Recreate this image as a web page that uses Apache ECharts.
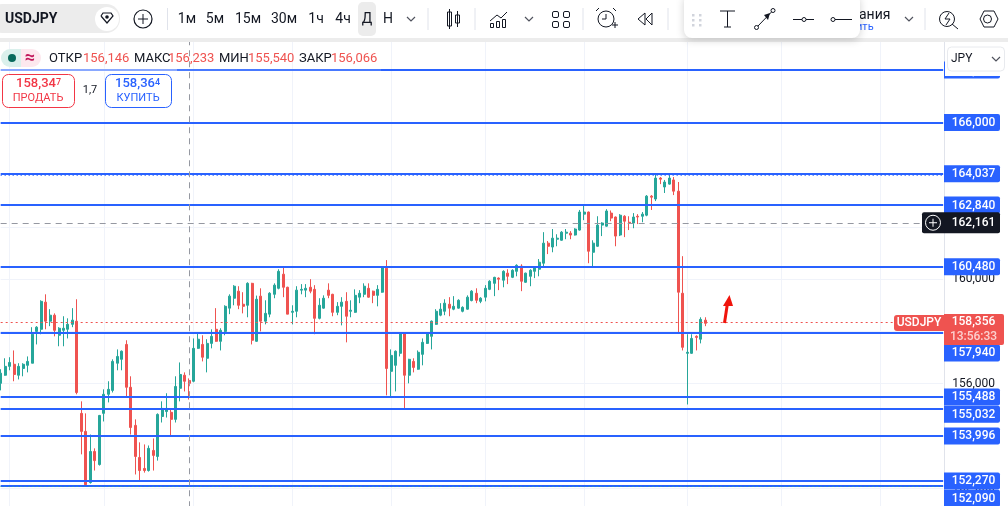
<!DOCTYPE html>
<html>
<head>
<meta charset="utf-8">
<title>USDJPY</title>
<style>
  html, body { margin: 0; padding: 0; background: #fff; }
  #chart { width: 1008px; height: 506px; }
</style>
<script src="https://cdn.jsdelivr.net/npm/echarts@6/dist/echarts.min.js"></script>
</head>
<body>
<div id="chart"></div>
<script>
// daily candles: [open, close, low, high]
const candles = [
  [156.01,156.40,155.74,156.55],[156.32,156.66,156.30,156.97],[156.66,156.81,156.51,157.01],[156.74,156.35,156.09,157.27],
  [156.32,156.66,156.16,156.78],[156.58,156.74,156.28,156.78],[156.70,156.85,156.43,157.04],[156.78,157.89,156.78,158.16],
  [158.00,158.16,157.50,158.20],[158.08,159.15,157.89,159.19],[159.12,158.39,158.08,159.42],[158.39,158.62,158.20,158.85],
  [158.62,158.04,157.81,158.69],[157.85,158.12,157.43,158.16],[158.04,158.12,157.43,158.58],[158.08,158.27,157.73,158.50],
  [158.27,158.43,158.16,158.89],[158.39,155.66,155.59,159.23],[154.86,154.17,153.29,155.32],[154.17,152.13,152.10,154.86],
  [152.21,153.40,152.17,154.05],[153.40,153.05,152.67,153.52],[152.90,154.78,152.86,154.80],[154.86,155.59,154.55,155.78],
  [155.59,155.78,155.28,156.09],[155.74,156.85,155.66,156.93],[156.78,157.04,156.51,157.31],[156.93,157.24,156.51,157.27],
  [157.50,155.86,155.51,157.66],[155.86,154.32,154.05,156.28],[154.40,153.21,152.52,154.63],[153.17,152.67,152.25,153.75],
  [152.75,152.67,152.59,153.67],[152.67,153.52,152.63,153.63],[153.44,153.25,152.67,153.90],[153.21,154.82,153.05,154.86],
  [154.74,155.05,154.51,155.32],[154.93,155.05,154.70,155.63],[154.90,154.63,153.98,155.05],[154.63,155.89,154.51,156.28],
  [155.82,156.35,155.32,156.81],[156.32,156.09,155.70,156.43],[156.12,156.01,155.39,156.20],[156.09,157.35,156.05,157.73],
  [157.35,157.70,157.33,157.96],[157.50,157.01,156.85,157.85],[156.97,157.54,156.43,157.70],[157.54,157.81,157.35,158.08],
  [158.08,157.62,157.60,158.89],[157.62,158.04,157.27,158.12],[158.00,158.96,157.85,159.00],[158.89,159.35,158.66,159.42],
  [159.27,159.73,159.00,159.77],[159.54,159.00,158.85,159.73],[159.04,158.96,158.69,159.50],[159.00,159.84,158.54,159.88],
  [159.84,157.66,157.50,159.86],[157.62,159.23,157.60,159.37],[159.35,158.39,158.00,159.65],[158.39,158.69,158.27,159.19],
  [158.66,159.46,158.54,159.50],[159.42,159.77,159.27,159.84],[159.65,160.30,159.61,160.38],[160.19,159.69,159.31,160.46],
  [159.69,158.66,158.66,159.71],[158.73,158.77,158.27,159.00],[158.77,159.58,158.54,159.73],[159.58,159.61,159.42,159.81],
  [159.58,159.65,159.31,159.81],[159.69,159.54,159.46,160.00],[159.61,158.50,157.89,159.77],[158.50,159.00,158.46,159.27],
  [158.89,159.27,158.87,159.38],[159.58,159.38,159.27,159.84],[159.42,158.73,158.58,159.44],[158.73,158.96,158.62,159.12],
  [158.96,159.12,158.23,159.31],[159.15,158.58,157.58,159.50],[158.77,158.81,158.54,159.19],[158.73,159.38,158.71,159.61],
  [159.31,159.46,159.08,159.58],[159.42,159.73,159.31,159.84],[159.65,159.31,159.29,159.84],[159.54,159.38,159.08,159.56],
  [159.38,159.61,158.96,159.77],[159.50,160.46,159.48,160.50],[160.42,156.58,155.55,160.73],[156.47,157.08,155.47,157.31],
  [156.70,157.24,155.70,157.27],[157.16,157.93,157.04,157.95],[157.93,156.32,155.01,157.95],[156.32,156.93,156.01,156.95],
  [156.85,156.62,156.43,156.97],[156.55,157.20,156.53,157.27],[157.12,157.58,156.70,157.73],[157.54,157.93,157.52,157.95],
  [157.81,158.39,157.31,158.42],[158.27,158.77,158.25,158.85],[158.62,158.85,158.58,159.08],[158.77,159.08,158.62,159.23],
  [159.04,158.89,158.58,159.31],[158.85,158.96,158.81,159.35],[158.89,159.19,158.87,159.23],[158.77,158.92,158.73,158.96],
  [158.85,159.31,158.83,159.38],[159.18,159.54,159.15,159.58],[159.46,159.19,159.08,159.65],[159.15,159.27,159.08,159.31],
  [159.31,159.65,159.15,159.77],[159.61,159.92,159.58,159.96],[159.84,160.07,159.35,160.09],[160.04,160.00,159.58,160.07],
  [159.96,160.30,159.69,160.34],[160.23,160.11,159.81,160.38],[160.07,160.34,160.04,160.38],[160.30,160.53,160.11,160.57],
  [160.50,159.92,159.54,160.57],[159.88,160.23,159.86,160.25],[160.11,160.34,159.73,160.38],[160.30,160.46,160.04,160.50],
  [160.38,160.65,160.11,160.77],[160.61,161.38,160.50,161.80],[161.38,161.26,160.96,161.46],[161.23,161.57,161.03,161.92],
  [161.53,161.57,161.26,161.72],[161.49,161.80,161.47,161.84],[161.76,161.80,161.53,161.92],[161.76,161.69,161.53,161.84],
  [161.69,161.92,161.67,161.95],[161.88,162.57,161.86,162.65],[162.49,162.57,162.26,162.84],[162.57,161.07,160.61,162.59],
  [161.03,161.38,160.46,161.49],[161.26,162.07,161.24,162.41],[162.07,162.15,161.65,162.18],[162.03,162.61,162.01,162.68],
  [162.53,162.34,162.22,162.63],[162.38,161.65,161.26,162.40],[161.69,162.45,161.65,162.49],[162.41,162.22,161.61,162.45],
  [162.18,162.15,161.88,162.41],[162.15,162.38,161.95,162.53],[162.41,162.38,162.11,162.49],[162.41,162.49,162.18,162.57],
  [162.45,163.18,162.41,163.22],[163.18,163.14,162.65,163.22],[163.07,163.87,162.99,164.02],[163.87,163.83,163.64,163.91],
  [163.53,163.72,163.30,163.80],[163.64,163.87,163.62,163.99],[163.80,163.37,163.22,163.91],[163.37,159.50,157.93,163.72],
  [159.46,157.39,157.27,160.88],[157.16,157.20,155.20,157.89],[157.16,157.73,157.14,157.89],[157.81,157.77,157.27,157.85],
  [157.70,158.46,157.54,158.54],[158.43,158.31,158.20,158.54]
];

const days = Array.from({ length: 211 }, (_, i) => i);  // 158 candles, the rest is empty space on the right
const monthStarts = [2, 23, 43, 65, 87, 108, 130, 153, 174, 196];

// blue horizontal levels drawn by hand on the chart
const levels = [168.01, 166.000, 164.037, 162.840, 160.480, 157.940, 155.488, 155.032, 153.996, 152.270, 152.090];
const levelNudge = [0, 0, 0, 0, 0, 20, 0, 5.5, 0, 0, 12.5];  // price tags pushed apart so they do not overlap
const lastPrice = 158.356;
const crossPrice = 162.161;
const crossDay = 42;
const dayHigh = 163.98;
const dayLow = 152.06;

const legendLabels = ['ОТКР', 'МАКС', 'МИН', 'ЗАКР'];
const legendValues = ['156,146', '156,233', '155,540', '156,066'];
const legendX = [49, 134, 219, 299];
const legendValueX = [83, 168, 248, 331];
const timeframes = ['1м', '5м', '15м', '30м', '1ч', '4ч', 'Д', 'Н'];
const timeframeX = [187, 215, 248, 284, 316, 343, 367, 388];

const UP = '#26a69a', DOWN = '#ef5350', BLUE = '#2962ff', INK = '#131722', GREY = '#9598a1';
const FONT = 'Roboto, "Noto Sans", sans-serif';

const fmt = (v) => v.toFixed(3).replace('.', ',');

const chart = echarts.init(document.getElementById('chart'));

chart.setOption({
  animation: false,
  backgroundColor: '#fff',
  textStyle: { fontFamily: FONT },
  grid: { left: 0.67, top: 18.06, width: 942.5, height: 522.2, outerBoundsMode: 'none' },
  xAxis: {
    type: 'category',
    data: days,
    boundaryGap: false,
    axisLine: { show: false },
    axisTick: { show: false },
    axisLabel: { show: false },
    splitLine: {
      show: true,
      interval: (i) => monthStarts.includes(i),
      lineStyle: { color: '#f0f3fa', width: 1 }
    }
  },
  yAxis: {
    type: 'value',
    position: 'right',
    min: 150,
    max: 170,
    interval: 2,
    axisLine: { show: false },
    axisTick: { show: false },
    axisLabel: {
      margin: 9,
      color: INK,
      fontSize: 12,
      fontFamily: FONT,
      formatter: (v) => fmt(v)
    },
    splitLine: { show: true, lineStyle: { color: '#f0f3fa', width: 1 } }
  },
  series: [{
    type: 'candlestick',
    data: candles,
    barWidth: 2.5,
    clip: false,
    itemStyle: { color: UP, color0: DOWN, borderColor: UP, borderColor0: DOWN, borderWidth: 1 },
    markLine: {
      silent: true,
      symbol: 'none',
      animation: false,
      label: { show: false },
      data: [
        ...levels.map((v) => ({ yAxis: v, lineStyle: { color: BLUE, width: 2.2, type: 'solid' } })),
        { yAxis: dayHigh, lineStyle: { color: BLUE, width: 1, type: [1, 3] } },
        { yAxis: dayLow, lineStyle: { color: UP, width: 1, type: [1, 3] } },
        { yAxis: lastPrice, lineStyle: { color: DOWN, width: 1.2, type: [2, 3] } },
        { yAxis: crossPrice, lineStyle: { color: GREY, width: 1, type: [6, 5] } },
        { xAxis: crossDay, lineStyle: { color: GREY, width: 1, type: [6, 5] } }
      ]
    }
  }]
});

// everything around the plot: price tags, toolbar, legend, order buttons
const g = [];
const add = (o) => { o.z = 100; g.push(o); };
const text = (x, y, s, font, fill, align) => add({
  type: 'text', x, y,
  style: { text: s, font: font + ' ' + FONT, fill: fill || INK, textAlign: align || 'left', textVerticalAlign: 'middle' }
});
const rect = (x, y, w, h, r, fill, stroke, extra) => add(Object.assign({
  type: 'rect', shape: { x, y, width: w, height: h, r: r || 0 },
  style: { fill: fill || 'none', stroke: stroke || 'none', lineWidth: 1 }
}, extra));
const line = (x1, y1, x2, y2, color, width) => add({
  type: 'line', shape: { x1, y1, x2, y2 }, style: { stroke: color || INK, lineWidth: width || 1 }
});
const circle = (cx, cy, r, fill, stroke, width) => add({
  type: 'circle', shape: { cx, cy, r }, style: { fill: fill || 'none', stroke: stroke || 'none', lineWidth: width || 1 }
});
const poly = (points, stroke, width) => add({
  type: 'polyline', shape: { points }, style: { fill: 'none', stroke: stroke || INK, lineWidth: width || 1 }
});
const chevron = (x, y) => poly([[x - 4, y - 2], [x, y + 2], [x + 4, y - 2]], '#50535e', 1.2);

const priceY = (v) => chart.convertToPixel({ yAxisIndex: 0 }, v);

// price scale
line(944.5, 42, 944.5, 506, '#e0e3eb', 1);
levels.forEach((v, i) => {
  const cy = priceY(v) + levelNudge[i];
  rect(944, cy - 8.5, 56, 17, [0, 2, 2, 0], BLUE);
  text(973.5, cy + 0.5, fmt(v), '500 12px', '#fff', 'center');
});

// crosshair tag
const crossY = priceY(crossPrice);
rect(922, crossY - 10.5, 78, 21, 2, INK);
text(973.5, crossY + 0.5, fmt(crossPrice), '500 12px', '#fff', 'center');
circle(933, crossY, 7.5, 'none', '#fff', 1);
line(929, crossY, 937, crossY, '#fff', 1);
line(933, crossY - 4, 933, crossY + 4, '#fff', 1);

// last price tag
const lastY = priceY(lastPrice);
rect(894, lastY - 7, 50, 16, [3, 0, 0, 3], DOWN);
text(919, lastY + 1, 'USDJPY', '500 12px', '#fff', 'center');
rect(944, lastY - 8, 60, 31, [0, 2, 2, 0], DOWN);
text(973.5, lastY, fmt(lastPrice), '500 12px', '#fff', 'center');
text(973.5, lastY + 15, '13:56:33', '500 12px', '#fbd0cf', 'center');

// arrow drawn on the chart
line(724.5, 323, 727.5, 303, '#f0140c', 3);
add({ type: 'polygon', shape: { points: [[729.5, 295], [723, 306], [733, 306]] }, style: { fill: '#f0140c' } });

// legend row, fades the top level line behind it
rect(0, 68, 177, 4, 0, 'rgba(255,255,255,0.45)');
rect(177, 68, 204, 4, 0, 'rgba(255,255,255,0.15)');
rect(1, 49, 20, 18, [9, 0, 0, 9], '#daf0ec');
rect(21, 49, 20, 18, [0, 9, 9, 0], '#fde8ee');
circle(12, 58, 4, '#086a5c');
text(30, 58, '≈', '700 18px', '#c2185b', 'center');
legendLabels.forEach((s, i) => {
  text(legendX[i], 58.5, s, '400 13px', INK);
  text(legendValueX[i], 58.5, legendValues[i], '400 13px', DOWN);
});

// sell / buy buttons
rect(2.5, 74.5, 72, 33, 6, '#fff', '#f23645');
text(36, 84, '158,34', '500 13px', '#f23645', 'center');
text(56, 83, '7', '500 9px', '#f23645');
text(38, 98, 'ПРОДАТЬ', '400 11px', '#f23645', 'center');
text(90, 90, '1,7', '400 11px', INK, 'center');
rect(105.5, 74.5, 66, 33, 6, '#fff', BLUE);
text(135, 84, '158,36', '500 13px', BLUE, 'center');
text(155, 83, '4', '500 9px', BLUE);
text(138, 98, 'КУПИТЬ', '400 11px', BLUE, 'center');

// top toolbar
rect(0, 0, 1008, 38, 0, '#fff');
rect(0, 38, 1008, 4, 0, '#ececec');
rect(-12, 4, 132, 29, 14, '#ececec');
text(5, 19, 'USDJPY', '700 14px');
circle(107, 19, 12, '#fff');
poly([[101, 16], [103, 13], [111, 13], [113, 16], [107, 23], [101, 16]], INK, 1.2);
circle(107, 17, 1.8, INK);
circle(143, 19, 9, 'none', INK, 1.2);
line(138, 19, 148, 19);
line(143, 14, 143, 24);
[167.5, 428, 475, 583, 668, 925].forEach((x) => line(x, 8, x, 30, '#e0e3eb'));
rect(358, 2, 18, 34, 5, '#ececec');
timeframes.forEach((s, i) => text(timeframeX[i], 19.5, s, '400 14px', INK, 'center'));
chevron(411, 19);
// candle icon
rect(447.5, 12, 4, 14, 0, 'none', INK);
rect(455.5, 15, 4, 8, 0, 'none', INK);
line(449.5, 9, 449.5, 29);
line(457.5, 11, 457.5, 27);
// indicators icon
poly([[490, 21], [497, 15], [501, 18], [507, 12]], INK, 1);
rect(490.5, 23.5, 3, 4, 0, 'none', INK);
rect(496.5, 21.5, 3, 6, 0, 'none', INK);
rect(502.5, 19.5, 3, 8, 0, 'none', INK);
chevron(529, 19);
// layouts icon
[[552, 11], [563, 11], [552, 21], [563, 21]].forEach((p) => rect(p[0] + 0.5, p[1] + 0.5, 6, 6, 1.5, 'none', INK));
// alarm icon
circle(606, 19, 8, 'none', INK, 1);
poly([[606, 14], [606, 19], [602, 19]], INK, 1);
line(599, 8, 596, 11);
line(613, 8, 616, 11);
line(612, 25, 618, 25);
line(615, 22, 615, 28);
// replay icon
poly([[645, 13], [638, 19], [645, 25], [645, 13]], INK, 1);
poly([[652, 13], [646, 19], [652, 25], [652, 13]], INK, 1);
// text behind the floating panel
text(859, 15, 'ания', '400 14px');
text(856, 27, 'ить', '400 11px', BLUE);
chevron(909, 19);
// right icons
circle(947, 19, 7.5, 'none', INK, 1);
poly([[949, 13], [945, 19], [950, 19], [946, 25]], INK, 1);
line(952, 24, 958, 29);
add({ type: 'polygon', shape: { points: [[980, 19], [984, 11], [994, 11], [998, 19], [994, 27], [984, 27]] }, style: { fill: 'none', stroke: INK, lineWidth: 1 } });
circle(987.5, 19, 4, 'none', INK, 1);
// floating drawing panel
rect(684, -6, 176, 44, 8, '#fff', 'none', { style: { fill: '#fff', shadowBlur: 8, shadowColor: 'rgba(0,0,0,0.18)', shadowOffsetY: 2 } });
[[692, 14], [699, 14], [692, 19], [699, 19], [692, 24], [699, 24]].forEach((p) => rect(p[0], p[1], 2.5, 2.5, 0, '#d1d4dc'));
line(720, 11, 735, 11);
line(727.5, 11, 727.5, 27);
line(724, 27, 731, 27);
circle(756.5, 27.5, 2, 'none', INK);
circle(773, 10.5, 2, 'none', INK);
line(758, 26, 771.5, 12);
add({ type: 'polygon', shape: { points: [[770, 13], [764, 15], [768, 20]] }, style: { fill: INK } });
line(793, 19.5, 802, 19.5);
circle(804, 19.5, 2, 'none', INK);
line(806, 19.5, 814, 19.5);
circle(833, 19.5, 2, 'none', INK);
line(835, 19.5, 852, 19.5);

// currency selector sits over the top level's tag
rect(945, 42, 63, 34, 0, '#fff');
rect(947.5, 47, 57, 24, 4, '#fff', '#e8eaee');
text(951, 59, 'JPY', '400 12px');
chevron(996, 59);

chart.setOption({ graphic: { elements: g } });
</script>
</body>
</html>
